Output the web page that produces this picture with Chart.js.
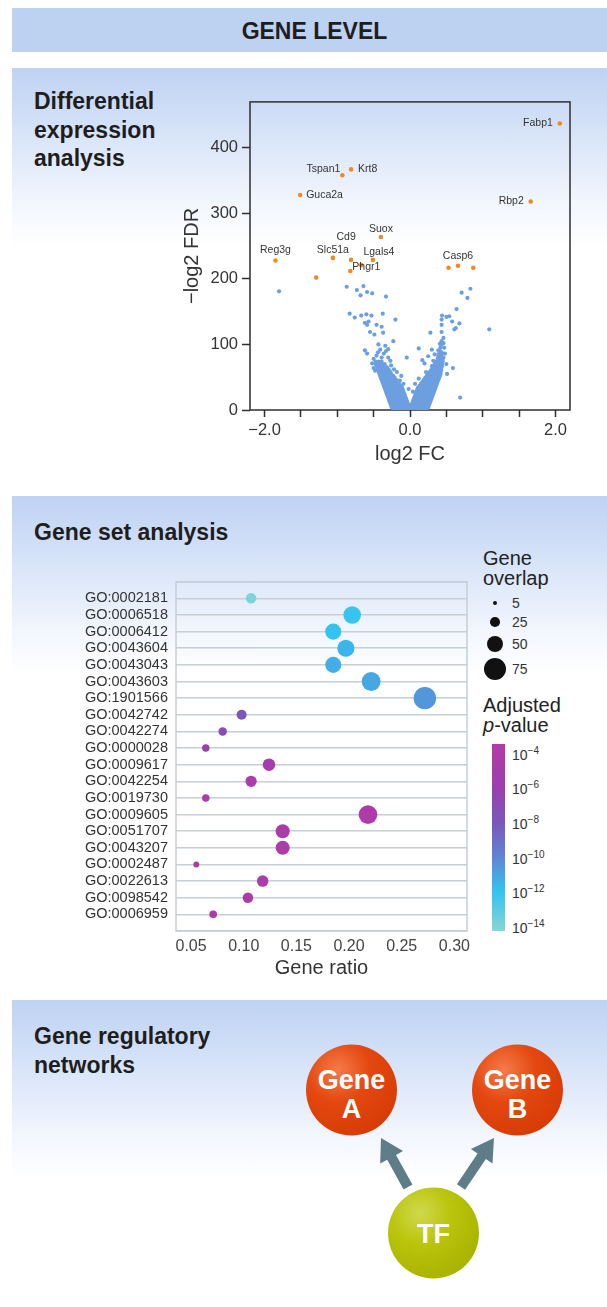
<!DOCTYPE html>
<html lang="en">
<head>
<meta charset="utf-8">
<title>Gene level</title>
<script src="https://cdn.jsdelivr.net/npm/chart.js@4.4.1/dist/chart.umd.min.js"></script>
<style>
  html, body { margin: 0; padding: 0; background: #fff; }
  body {
    position: relative; width: 607px; height: 1307px; overflow: hidden;
    font-family: "Liberation Sans", Arial, Helvetica, sans-serif; color: #1e1e1e;
  }
  .header {
    position: absolute; left: 12px; right: 0; top: 8px; height: 44px;
    background: #bdd1f1; font-weight: bold; font-size: 23px; line-height: 46px;
    text-align: center; padding-left: 10px; box-sizing: border-box;
  }
  .panel {
    position: absolute; left: 12px; right: 0; height: 180px;
    background: linear-gradient(to bottom, #bed2f2 0%, #d6e3f8 35%, #f2f6fd 75%, #fff 100%);
  }
  .panel-title { position: absolute; left: 34px; font-weight: bold; font-size: 23px; line-height: 28.5px; }
  .chart-box { position: absolute; }
  .legend-title { position: absolute; left: 483px; font-size: 20px; line-height: 20px; color: #222; }
  .key-dot { position: absolute; background: #111; border-radius: 50%; }
  .key-label { position: absolute; font-size: 14px; line-height: 16px; color: #333; }
  .key-label sup { font-size: 10px; vertical-align: 6px; line-height: 0; }
  .colorbar { position: absolute; left: 492px; top: 744px; width: 13px; height: 187px; }
</style>
</head>
<body>
  <div class="header">GENE LEVEL</div>
  <div class="panel" style="top:68px"></div>
  <div class="panel" style="top:496px"></div>
  <div class="panel" style="top:1000px"></div>

  <div class="panel-title" style="top:87px">Differential<br>expression<br>analysis</div>
  <div class="panel-title" style="top:518px">Gene set analysis</div>
  <div class="panel-title" style="top:1022px">Gene regulatory<br>networks</div>

  <div class="chart-box" style="left:170px;top:88px;width:410px;height:392px">
    <canvas id="volcanoChart" width="410" height="392"></canvas>
  </div>
  <div class="chart-box" style="left:60px;top:565px;width:420px;height:420px">
    <canvas id="goChart" width="420" height="420"></canvas>
  </div>

  <div id="legend">
    <div class="legend-title" style="top:548px">Gene<br>overlap</div>
    <div class="legend-title" style="top:695px">Adjusted<br><i>p</i>-value</div>
    <div class="colorbar" id="colorbar"></div>
  </div>

  <svg id="network" width="607" height="307" viewBox="0 0 607 307" style="position:absolute;left:0;top:1000px">
    <defs>
      <radialGradient id="geneFill" cx="35%" cy="28%" r="78%">
        <stop offset="0%" stop-color="#f47b4a"/>
        <stop offset="45%" stop-color="#e4480f"/>
        <stop offset="100%" stop-color="#d63b06"/>
      </radialGradient>
      <radialGradient id="tfFill" cx="35%" cy="28%" r="78%">
        <stop offset="0%" stop-color="#d0d94c"/>
        <stop offset="45%" stop-color="#b9c40a"/>
        <stop offset="100%" stop-color="#a8b200"/>
      </radialGradient>
    </defs>
    <g id="arrows" fill="#5e7d89"></g>
    <circle cx="351.5" cy="90" r="45.5" fill="url(#geneFill)"/>
    <circle cx="517.5" cy="90" r="45.5" fill="url(#geneFill)"/>
    <circle cx="433.5" cy="233" r="45.5" fill="url(#tfFill)"/>
    <g fill="#fff" font-weight="bold" font-size="27" text-anchor="middle"
       font-family="Liberation Sans, Arial, sans-serif">
      <text x="351.5" y="89">Gene</text>
      <text x="351.5" y="118">A</text>
      <text x="517.5" y="89">Gene</text>
      <text x="517.5" y="118">B</text>
      <text x="433.5" y="243">TF</text>
    </g>
  </svg>

<script>
// ---- Differential expression (volcano) data: log2 FC vs -log2 FDR ----
// Dense body of the volcano, one row per -log2 FDR level: [fdr, [fc, fc, ...]]
const volcanoCloudRows = [
  [1,  [-0.23, -0.19, -0.15, -0.11, -0.07, -0.03, 0.01, 0.05, 0.09, 0.13, 0.17, 0.21, 0.23]],
  [4,  [-0.25, -0.21, -0.17, -0.13, -0.09, -0.05, -0.01, 0.03, 0.07, 0.11, 0.15, 0.19, 0.23, 0.25]],
  [7,  [-0.26, -0.22, -0.18, -0.14, -0.10, -0.06, -0.02, 0.02, 0.06, 0.10, 0.14, 0.18, 0.22, 0.26]],
  [10, [-0.27, -0.23, -0.19, -0.15, -0.11, -0.07, -0.03, 0.03, 0.07, 0.11, 0.15, 0.19, 0.23, 0.27]],
  [13, [-0.28, -0.24, -0.20, -0.16, -0.12, -0.08, -0.04, 0.04, 0.08, 0.12, 0.16, 0.20, 0.24, 0.28]],
  [16, [-0.29, -0.25, -0.21, -0.17, -0.13, -0.09, -0.05, 0.05, 0.09, 0.13, 0.17, 0.21, 0.25, 0.29]],
  [19, [-0.30, -0.26, -0.22, -0.18, -0.14, -0.10, -0.06, 0.06, 0.10, 0.14, 0.18, 0.22, 0.26, 0.30]],
  [22, [-0.31, -0.27, -0.23, -0.19, -0.15, -0.11, -0.07, 0.07, 0.11, 0.15, 0.19, 0.23, 0.27, 0.31]],
  [25, [-0.32, -0.28, -0.24, -0.20, -0.16, -0.12, -0.08, 0.08, 0.12, 0.16, 0.20, 0.24, 0.28, 0.32]],
  [28, [-0.33, -0.29, -0.25, -0.21, -0.17, -0.13, -0.09, 0.09, 0.13, 0.17, 0.21, 0.25, 0.29, 0.33]],
  [31, [-0.34, -0.30, -0.26, -0.22, -0.18, -0.14, -0.10, 0.10, 0.14, 0.18, 0.22, 0.26, 0.30, 0.34]],
  [34, [-0.35, -0.31, -0.27, -0.23, -0.19, -0.15, -0.11, 0.11, 0.15, 0.19, 0.23, 0.27, 0.31, 0.35]],
  [37, [-0.36, -0.32, -0.28, -0.24, -0.20, -0.16, -0.13, 0.13, 0.17, 0.21, 0.25, 0.29, 0.33, 0.36]],
  [40, [-0.37, -0.33, -0.29, -0.25, -0.21, -0.17, -0.15, 0.15, 0.19, 0.23, 0.27, 0.31, 0.35, 0.37]],
  [43, [-0.38, -0.34, -0.30, -0.26, -0.22, -0.18, 0.17, 0.21, 0.25, 0.29, 0.33, 0.38]],
  [46, [-0.39, -0.35, -0.31, -0.27, -0.23, -0.19, 0.19, 0.23, 0.27, 0.31, 0.35, 0.39]],
  [49, [-0.40, -0.36, -0.32, -0.28, -0.24, -0.21, 0.21, 0.25, 0.29, 0.33, 0.37, 0.40]],
  [52, [-0.41, -0.37, -0.33, -0.29, -0.25, -0.23, 0.23, 0.27, 0.31, 0.35, 0.39, 0.41]],
  [55, [-0.42, -0.38, -0.34, -0.30, -0.26, 0.25, 0.29, 0.33, 0.37, 0.42]],
  [58, [-0.43, -0.39, -0.35, -0.31, -0.27, 0.27, 0.31, 0.35, 0.39, 0.42]],
  [61, [-0.44, -0.40, -0.36, -0.32, -0.29, 0.29, 0.33, 0.37, 0.41, 0.43]],
  [64, [-0.45, -0.41, -0.37, -0.33, -0.31, 0.31, 0.35, 0.39, 0.43]],
  [67, [-0.46, -0.42, -0.38, -0.34, 0.32, 0.36, 0.40, 0.44]],
  [70, [-0.47, -0.43, -0.39, -0.35, 0.34, 0.38, 0.42, 0.44]],
  [74, [-0.47, -0.43, -0.39, 0.36, 0.40, 0.45]],
  [78, [0.38, 0.42, 0.45]],
  [82, [0.39, 0.43]],
  [86, [0.40, 0.44]],
  [90, [0.41]],
  [95, [0.42]],
  [100, [0.43]]
];

// Loose points around the arms: [fc, fdr]
const volcanoScatter = [
  [-1.80, 181], [-0.87, 188], [-0.73, 183], [-0.64, 189], [-0.68, 175], [-0.59, 180],
  [-0.52, 178], [-0.33, 173], [-0.83, 147], [-0.76, 141], [-0.67, 144], [-0.60, 146],
  [-0.53, 144], [-0.375, 147], [-0.20, 138], [-0.62, 133], [-0.59, 130], [-0.57, 135],
  [-0.46, 130], [-0.39, 127], [-0.55, 119], [-0.49, 115], [-0.37, 118], [-0.23, 105],
  [-0.435, 100], [-0.34, 98], [-0.30, 93], [-0.62, 91], [-0.59, 86], [-0.46, 83],
  [-0.39, 80], [-0.30, 80], [-0.045, 80], [-0.46, 72], [-0.39, 68], [-0.32, 65],
  [-0.26, 68], [-0.48, 60], [-0.41, 55], [-0.32, 53], [-0.18, 58], [-0.37, 45], [-0.14, 45],
  [-0.50, 78], [-0.52, 71], [-0.44, 88], [-0.41, 92], [-0.36, 86], [-0.33, 90],
  [-0.27, 75], [-0.22, 62], [-0.50, 64], [-0.12, 52], [-0.09, 40], [-0.02, 32],
  [0.83, 185], [0.71, 179], [0.79, 171], [0.64, 154], [0.44, 144], [0.50, 142],
  [0.54, 143], [0.435, 138], [0.58, 135], [0.68, 132], [0.435, 130], [0.63, 125],
  [0.61, 123], [0.28, 118], [0.435, 119], [1.09, 123], [0.435, 105], [0.41, 101],
  [0.46, 102], [0.12, 94], [0.39, 91], [0.435, 88], [0.34, 85], [0.46, 80], [0.32, 75],
  [0.17, 76], [0.20, 71], [0.59, 64], [0.39, 69], [0.30, 67], [0.07, 40], [0.69, 19],
  [0.47, 95], [0.48, 86], [0.46, 110], [0.30, 92], [0.25, 82], [0.22, 58], [0.50, 70],
  [0.51, 55], [0.12, 48], [0.04, 28]
];

// Top hits (orange); empty name = unlabelled point
const topGeneNames = ["Fabp1", "Rbp2", "Krt8", "Tspan1", "Guca2a", "Suox", "Cd9", "Slc51a",
  "Lgals4", "Reg3g", "Phgr1", "", "", "Casp6", "", ""];
const topGeneFC = [2.06, 1.66, -0.81, -0.93, -1.51, -0.40, -0.81, -1.06,
  -0.51, -1.85, -0.82, -0.67, -1.29, 0.66, 0.53, 0.87];
const topGeneFDR = [437, 318, 367, 358, 328, 264, 229, 232,
  229, 228, 212, 221, 202, 220, 217, 217];

const volcanoXLabels = [-2, 0, 2];

// ---- Gene set analysis data ----
const goTerms = ["GO:0002181", "GO:0006518", "GO:0006412", "GO:0043604", "GO:0043043",
  "GO:0043603", "GO:1901566", "GO:0042742", "GO:0042274", "GO:0000028", "GO:0009617",
  "GO:0042254", "GO:0019730", "GO:0009605", "GO:0051707", "GO:0043207", "GO:0002487",
  "GO:0022613", "GO:0098542", "GO:0006959"];
const geneRatio = [0.107, 0.203, 0.185, 0.197, 0.185, 0.221, 0.272, 0.098, 0.080, 0.064,
  0.124, 0.107, 0.064, 0.218, 0.137, 0.137, 0.055, 0.118, 0.104, 0.071];
const geneOverlap = [28, 56, 50, 54, 50, 61, 75, 26, 20, 16,
  36, 31, 16, 60, 42, 42, 10, 32, 28, 17];
const adjPLog10 = [-14, -12.1, -12, -11.6, -11.3, -11.1, -10.6, -8, -7, -6,
  -4.8, -4.6, -4.5, -4.1, -4.3, -4.3, -4.5, -4.4, -4.5, -4.5];

const overlapKeys = [5, 25, 50, 75];
const pValueKeys = [-4, -6, -8, -10, -12, -14];

// ---- Styles ----
const BLUE = "#6c9fe0";
const ORANGE = "#ef8a22";
const AXIS_DARK = "#2e2e2e";
const GRID_LIGHT = "#c6ced6";

const labelPlacement = {
  Fabp1: { dx: -7, dy: 0, align: "right" },
  Rbp2: { dx: -7, dy: 0, align: "right" },
  Krt8: { dx: 7, dy: 0, align: "left" },
  Tspan1: { dx: -2, dy: -6, align: "right" },
  Guca2a: { dx: 6, dy: 0, align: "left" },
  Suox: { dx: 0, dy: -8, align: "center" },
  Cd9: { dx: -5, dy: -23, align: "center" },
  Slc51a: { dx: 0, dy: -8, align: "center" },
  Lgals4: { dx: 6, dy: -8, align: "center" },
  Reg3g: { dx: 0, dy: -10, align: "center" },
  Phgr1: { dx: 2, dy: -4, align: "left" },
  Casp6: { dx: 0, dy: -10, align: "center" }
};

const pColorStops = [
  [-3.5, "#b53aa6"], [-6, "#9a40ae"], [-8, "#7c57bb"],
  [-10, "#5f84d4"], [-12, "#33c3f0"], [-14.3, "#86d7d2"]
];
const BAR_TOP_Y = 744;
const BAR_HEIGHT = 187;
const overlapKeyY = [603, 622, 644, 669];

Chart.defaults.font.family = '"Liberation Sans", Arial, Helvetica, sans-serif';
Chart.defaults.color = "#333";

// ---- Helpers ----
function radiusFor(overlap) {
  return 1.7 + 0.127 * overlap;
}

function hexToRgb(hex) {
  const n = parseInt(hex.slice(1), 16);
  return [(n >> 16) & 255, (n >> 8) & 255, n & 255];
}

function colorFor(logP) {
  const first = pColorStops[0];
  const last = pColorStops[pColorStops.length - 1];
  if (logP >= first[0]) return first[1];
  if (logP <= last[0]) return last[1];
  for (let i = 0; i < pColorStops.length - 1; i++) {
    const [a, ca] = pColorStops[i];
    const [b, cb] = pColorStops[i + 1];
    if (logP <= a && logP >= b) {
      const t = (a - logP) / (a - b);
      const ra = hexToRgb(ca);
      const rb = hexToRgb(cb);
      const mix = ra.map((v, k) => Math.round(v + (rb[k] - v) * t));
      return `rgb(${mix[0]}, ${mix[1]}, ${mix[2]})`;
    }
  }
  return last[1];
}

function barYFor(logP) {
  const top = pColorStops[0][0];
  const bottom = pColorStops[pColorStops.length - 1][0];
  return BAR_TOP_Y + ((top - logP) / (top - bottom)) * BAR_HEIGHT;
}

function formatSigned(v) {
  const s = Math.abs(v).toFixed(1);
  return v < 0 ? "\u2212" + s : s;
}

// Draws a full rectangle round the plot area.
const frameBox = {
  id: "frameBox",
  beforeDatasetsDraw(chart, args, opts) {
    const { ctx, chartArea: a } = chart;
    ctx.save();
    ctx.strokeStyle = opts.color || "#333";
    ctx.lineWidth = opts.width || 1;
    ctx.strokeRect(a.left, a.top, a.right - a.left, a.bottom - a.top);
    ctx.restore();
  }
};

// Gene names next to the orange top hits.
const geneLabels = {
  id: "geneLabels",
  afterDatasetsDraw(chart) {
    const { ctx, scales } = chart;
    ctx.save();
    ctx.font = '10.5px "Liberation Sans", Arial, sans-serif';
    ctx.fillStyle = "#333";
    ctx.textBaseline = "middle";
    topGeneNames.forEach((name, i) => {
      if (!name) return;
      const place = labelPlacement[name] || { dx: 6, dy: 0, align: "left" };
      const px = scales.x.getPixelForValue(topGeneFC[i]);
      const py = scales.y.getPixelForValue(topGeneFDR[i]);
      ctx.textAlign = place.align;
      ctx.fillText(name, px + place.dx, py + place.dy);
    });
    ctx.restore();
  }
};

// ---- Charts ----
function setupVolcano() {
  const cloud = [];
  volcanoCloudRows.forEach(([fdr, fcs]) => {
    fcs.forEach((fc) => cloud.push({ x: fc, y: fdr }));
  });
  volcanoScatter.forEach(([fc, fdr]) => cloud.push({ x: fc, y: fdr }));
  const hits = topGeneFC.map((fc, i) => ({ x: fc, y: topGeneFDR[i] }));

  new Chart(document.getElementById("volcanoChart"), {
    type: "scatter",
    data: {
      datasets: [
        { data: cloud, backgroundColor: BLUE, pointRadius: 2.1, borderWidth: 0 },
        { data: hits, backgroundColor: ORANGE, pointRadius: 2.3, borderWidth: 0 }
      ]
    },
    options: {
      responsive: false,
      animation: false,
      events: [],
      layout: { padding: { top: 10, right: 10, left: 0, bottom: 0 } },
      plugins: {
        legend: { display: false },
        tooltip: { enabled: false },
        frameBox: { color: AXIS_DARK, width: 1.5 }
      },
      scales: {
        x: {
          type: "linear",
          min: -2.2,
          max: 2.2,
          afterFit(scale) { scale.height = 70; },
          border: { display: false },
          grid: { drawOnChartArea: false, drawTicks: true, tickLength: 7, tickColor: AXIS_DARK, tickWidth: 1.5 },
          ticks: {
            stepSize: 0.5,
            includeBounds: false,
            autoSkip: false,
            maxRotation: 0,
            padding: 4,
            color: "#333",
            font: { size: 16.5 },
            callback: (v) => (volcanoXLabels.includes(v) ? formatSigned(v) : "")
          },
          title: { display: true, text: "log2 FC", color: "#333", font: { size: 20 }, padding: { top: 0, bottom: 14 } }
        },
        y: {
          type: "linear",
          min: 0,
          max: 470,
          afterFit(scale) { scale.width = 80; },
          border: { display: false },
          grid: { drawOnChartArea: false, drawTicks: true, tickLength: 8, tickColor: AXIS_DARK, tickWidth: 1.5 },
          ticks: { stepSize: 100, includeBounds: false, padding: 4, color: "#333", font: { size: 16.5 } },
          title: { display: true, text: "\u2212log2 FDR", color: "#333", font: { size: 20 }, padding: { top: 10, bottom: 0 } }
        }
      }
    },
    plugins: [frameBox, geneLabels]
  });
}

function setupGeneSets() {
  const points = goTerms.map((term, i) => ({ x: geneRatio[i], y: i, r: radiusFor(geneOverlap[i]) }));

  new Chart(document.getElementById("goChart"), {
    type: "bubble",
    data: {
      datasets: [{
        data: points,
        backgroundColor: adjPLog10.map(colorFor),
        borderWidth: 0
      }]
    },
    options: {
      responsive: false,
      animation: false,
      events: [],
      layout: { padding: { top: 10, right: 13, left: 0, bottom: 0 } },
      plugins: {
        legend: { display: false },
        tooltip: { enabled: false },
        frameBox: { color: GRID_LIGHT, width: 1.5 }
      },
      scales: {
        x: {
          type: "linear",
          min: 0.0357,
          max: 0.312,
          afterFit(scale) { scale.height = 54; },
          border: { display: false },
          grid: { display: false, drawTicks: false },
          ticks: {
            stepSize: 0.05,
            includeBounds: false,
            autoSkip: false,
            maxRotation: 0,
            padding: 6,
            color: "#444",
            font: { size: 16 },
            callback: (v) => v.toFixed(2)
          },
          title: { display: true, text: "Gene ratio", color: "#333", font: { size: 20 }, padding: { top: 0, bottom: 5 } }
        },
        y: {
          type: "linear",
          min: -1,
          max: 20,
          reverse: true,
          afterFit(scale) { scale.width = 116; },
          border: { display: false },
          grid: { color: GRID_LIGHT, lineWidth: 1.5, drawTicks: false },
          ticks: {
            stepSize: 1,
            maxTicksLimit: 40,
            autoSkip: false,
            padding: 8,
            color: "#333",
            font: { size: 14.5 },
            callback: (v) => goTerms[v] || ""
          }
        }
      }
    },
    plugins: [frameBox]
  });
}

// ---- Legends and network diagram ----
function setupLegend() {
  const legend = document.getElementById("legend");

  overlapKeys.forEach((n, i) => {
    const r = radiusFor(n);
    const dot = document.createElement("div");
    dot.className = "key-dot";
    dot.style.width = dot.style.height = `${r * 2}px`;
    dot.style.left = `${495 - r}px`;
    dot.style.top = `${overlapKeyY[i] - r}px`;
    legend.appendChild(dot);

    const label = document.createElement("div");
    label.className = "key-label";
    label.textContent = n;
    label.style.left = "512px";
    label.style.top = `${overlapKeyY[i] - 8}px`;
    legend.appendChild(label);
  });

  const top = pColorStops[0][0];
  const bottom = pColorStops[pColorStops.length - 1][0];
  const stops = pColorStops.map(([v, c]) => `${c} ${(((top - v) / (top - bottom)) * 100).toFixed(1)}%`);
  document.getElementById("colorbar").style.background = `linear-gradient(to bottom, ${stops.join(", ")})`;

  pValueKeys.forEach((p) => {
    const label = document.createElement("div");
    label.className = "key-label";
    label.innerHTML = `10<sup>\u2212${Math.abs(p)}</sup>`;
    label.style.left = "512px";
    label.style.top = `${barYFor(p) - 6}px`;
    legend.appendChild(label);
  });
}

function addArrow(group, x1, y1, x2, y2) {
  const dx = x2 - x1;
  const dy = y2 - y1;
  const len = Math.hypot(dx, dy);
  const ux = dx / len;
  const uy = dy / len;
  const nx = -uy;
  const ny = ux;
  const headLen = 22;
  const headHalf = 13;
  const shaftHalf = 5;
  const bx = x2 - ux * headLen;
  const by = y2 - uy * headLen;
  const pts = [
    [x1 + nx * shaftHalf, y1 + ny * shaftHalf],
    [bx + nx * shaftHalf, by + ny * shaftHalf],
    [bx + nx * headHalf, by + ny * headHalf],
    [x2, y2],
    [bx - nx * headHalf, by - ny * headHalf],
    [bx - nx * shaftHalf, by - ny * shaftHalf],
    [x1 - nx * shaftHalf, y1 - ny * shaftHalf]
  ];
  const poly = document.createElementNS("http://www.w3.org/2000/svg", "polygon");
  poly.setAttribute("points", pts.map((p) => p.map((v) => v.toFixed(1)).join(",")).join(" "));
  group.appendChild(poly);
}

function setupNetwork() {
  const group = document.getElementById("arrows");
  addArrow(group, 408, 187, 381, 138);
  addArrow(group, 461, 187, 494, 138);
}

setupVolcano();
setupGeneSets();
setupLegend();
setupNetwork();
</script>
</body>
</html>
